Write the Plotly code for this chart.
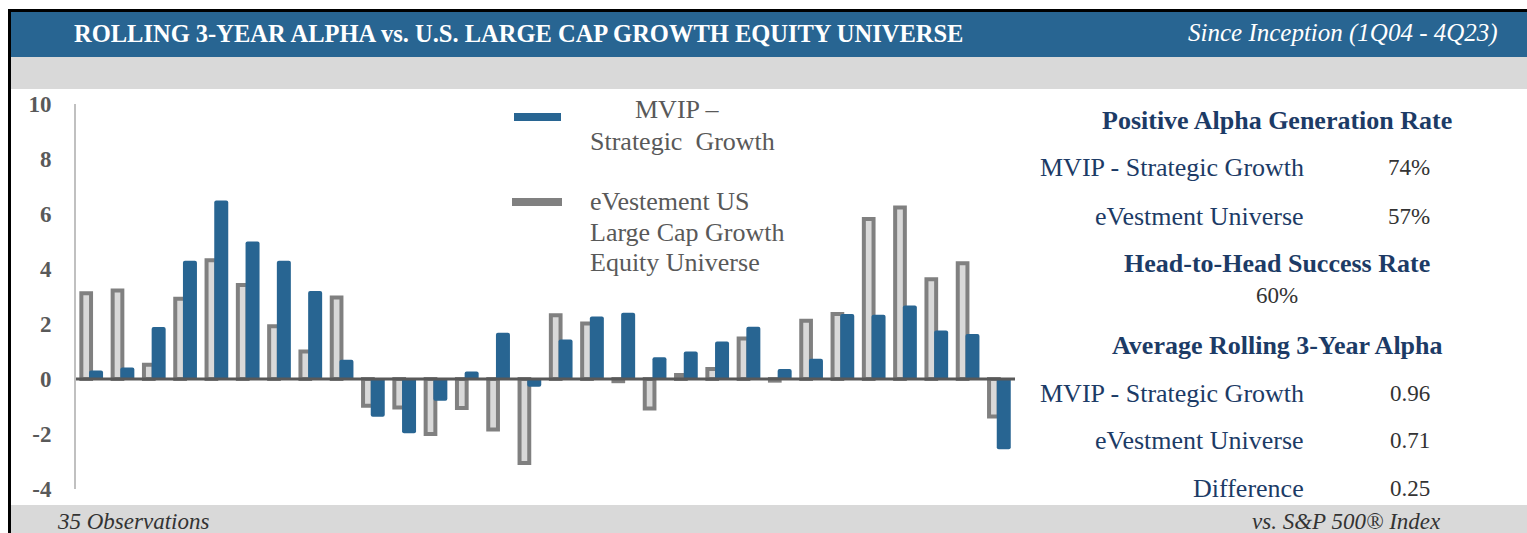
import plotly.graph_objects as go

# ---------------- data ----------------
observations = list(range(1, 31))
mvip_alpha = [0.31, 0.42, 1.89, 4.30, 6.49, 5.00, 4.30, 3.20, 0.70, -1.37,
              -1.97, -0.79, 0.27, 1.68, -0.28, 1.44, 2.27, 2.41, 0.79, 1.00,
              1.36, 1.90, 0.36, 0.74, 2.36, 2.34, 2.67, 1.76, 1.64, -2.55]
evest_alpha = [3.12, 3.22, 0.52, 2.92, 4.32, 3.42, 1.92, 1.00, 2.96, -0.97,
               -1.04, -2.00, -1.05, -1.84, -3.05, 2.32, 2.02, -0.08, -1.07, 0.15,
               0.36, 1.47, -0.06, 2.12, 2.36, 5.82, 6.24, 3.63, 4.21, -1.36]
y_ticks = [-4, -2, 0, 2, 4, 6, 8, 10]
y_tick_labels = ["-4", "-2", "0", "2", "4", "6", "8", "10"]

series_names = ["MVIP – Strategic Growth", "eVestement US Large Cap Growth Equity Universe"]
title_text = "ROLLING 3-YEAR ALPHA vs. U.S. LARGE CAP GROWTH EQUITY UNIVERSE"
subtitle_text = "Since Inception (1Q04 - 4Q23)"
footer_left = "35 Observations"
footer_right = "vs. S&P 500® Index"

stats_rows = [
    ("head", "Positive Alpha Generation Rate", None),
    ("row", "MVIP - Strategic Growth", "74%"),
    ("row", "eVestment Universe", "57%"),
    ("head", "Head-to-Head Success Rate", None),
    ("center", "60%", None),
    ("head", "Average Rolling 3-Year Alpha", None),
    ("row", "MVIP - Strategic Growth", "0.96"),
    ("row", "eVestment Universe", "0.71"),
    ("row", "Difference", "0.25"),
]

# ---------------- styling / layout ----------------
# coordinates below are in page pixels; body margin is removed by post_script
OFF = 0
W, H = 1527, 533
L, R, T, B = 76, 1015, 104, 489
BLUE = "#286592"
NAVY = "#1c3b66"
GREYTXT = "#595959"
BAND = "#d9d9d9"
SERIF = "Liberation Serif, Times New Roman, serif"


def px(x):
    return (x - L) / (R - L)


def py(y):
    return (B - y) / (B - T)


xpos = [i for i in range(len(observations))]
pitch_px = (R - L) / len(observations)

fig = go.Figure()
fig.add_trace(go.Bar(
    x=xpos, y=evest_alpha, name=series_names[1],
    width=9.7 / pitch_px, offset=-10.3 / pitch_px,
    marker=dict(color="#d9d9d9", line=dict(color="#808080", width=4)),
    showlegend=False,
))
fig.add_trace(go.Bar(
    x=xpos, y=mvip_alpha, name=series_names[0],
    width=14 / pitch_px, offset=-2.6 / pitch_px,
    marker=dict(color=BLUE, line=dict(width=0), cornerradius=2),
    showlegend=False,
))

RIGHT_EDGE = 1560
BOTTOM_EDGE = 545
shapes = []
# top black rule and left black rule
shapes.append(dict(type="rect", xref="paper", yref="paper",
                   x0=px(8), x1=px(RIGHT_EDGE), y0=py(12), y1=py(9),
                   fillcolor="black", line=dict(width=0), layer="below"))
shapes.append(dict(type="rect", xref="paper", yref="paper",
                   x0=px(8), x1=px(11), y0=py(BOTTOM_EDGE), y1=py(9),
                   fillcolor="black", line=dict(width=0), layer="below"))
# header band
shapes.append(dict(type="rect", xref="paper", yref="paper",
                   x0=px(11), x1=px(RIGHT_EDGE), y0=py(57), y1=py(12),
                   fillcolor=BLUE, line=dict(width=0), layer="below"))
# grey band under header
shapes.append(dict(type="rect", xref="paper", yref="paper",
                   x0=px(11), x1=px(RIGHT_EDGE), y0=py(89), y1=py(57),
                   fillcolor=BAND, line=dict(width=0), layer="below"))
# footer band
shapes.append(dict(type="rect", xref="paper", yref="paper",
                   x0=px(11), x1=px(RIGHT_EDGE), y0=py(BOTTOM_EDGE), y1=py(505),
                   fillcolor=BAND, line=dict(width=0), layer="below"))
# zero line above bars
shapes.append(dict(type="line", xref="paper", yref="y",
                   x0=0, x1=1, y0=0, y1=0,
                   line=dict(color="#595959", width=3), layer="above"))
# legend swatches
shapes.append(dict(type="rect", xref="paper", yref="paper",
                   x0=px(514), x1=px(561), y0=py(121), y1=py(113),
                   fillcolor=BLUE, line=dict(width=0)))
shapes.append(dict(type="rect", xref="paper", yref="paper",
                   x0=px(512), x1=px(562), y0=py(206), y1=py(198),
                   fillcolor="#808080", line=dict(width=0)))

ann = []


def text(x, y, s, size, color, anchor="left", family=SERIF, bold=False, italic=False):
    if bold:
        s = "<b>" + s + "</b>"
    if italic:
        s = "<i>" + s + "</i>"
    ann.append(dict(xref="paper", yref="paper", x=px(x), y=py(y), text=s,
                    showarrow=False, xanchor=anchor, yanchor="middle",
                    font=dict(family=family, size=size, color=color)))


# header
text(72, 33, title_text, 24.5, "white", bold=True)
text(1500, 33, subtitle_text, 25, "white", anchor="right", italic=True)

# legend text
text(677, 109, "MVIP –", 26, GREYTXT, anchor="center")
text(588, 141, "Strategic  Growth", 26, GREYTXT)
text(588, 201, "eVestement US", 26, GREYTXT)
text(588, 232, "Large Cap Growth", 26, GREYTXT)
text(588, 262, "Equity Universe", 26, GREYTXT)

# stats panel
row_y = [120, 167, 216, 263, 295, 345, 393, 440, 488]
for (kind, label, value), y in zip(stats_rows, row_y):
    if kind == "head":
        text(1277, y, label, 26, NAVY, anchor="center", bold=True)
    elif kind == "center":
        text(1277, y, label, 23, "#333333", anchor="center")
    else:
        text(1306, y, label, 26, NAVY, anchor="right")
        text(1432, y, value, 23, "#333333", anchor="right")

# footer
text(55, 521, footer_left, 23, "#333333", italic=True)
text(1443, 521, footer_right, 23, "#333333", anchor="right", italic=True)

fig.update_layout(
    width=W, height=H,
    margin=dict(l=L - OFF, r=W - (R - OFF), t=T - OFF, b=H - (B - OFF), pad=0),
    paper_bgcolor="white", plot_bgcolor="white",
    barmode="overlay",
    shapes=shapes, annotations=ann,
    showlegend=False,
)
fig.update_xaxes(range=[-0.5, len(observations) - 0.5], showticklabels=False,
                 showgrid=False, zeroline=False, showline=False, ticks="")
fig.update_yaxes(range=[-4, 10], tickvals=y_ticks, ticktext=y_tick_labels,
                 showgrid=False, zeroline=False, showline=True,
                 linecolor="#c0c0c0", linewidth=2, ticks="",
                 ticklabelstandoff=18,
                 tickfont=dict(family=SERIF, size=23, color=GREYTXT, weight="bold"))

fig.write_html(
    "out.html",
    config={"displayModeBar": False},
    post_script=("document.body.style.margin='0';"
                 "document.documentElement.style.overflow='hidden';"
                 "document.body.style.overflow='hidden';"),
)
